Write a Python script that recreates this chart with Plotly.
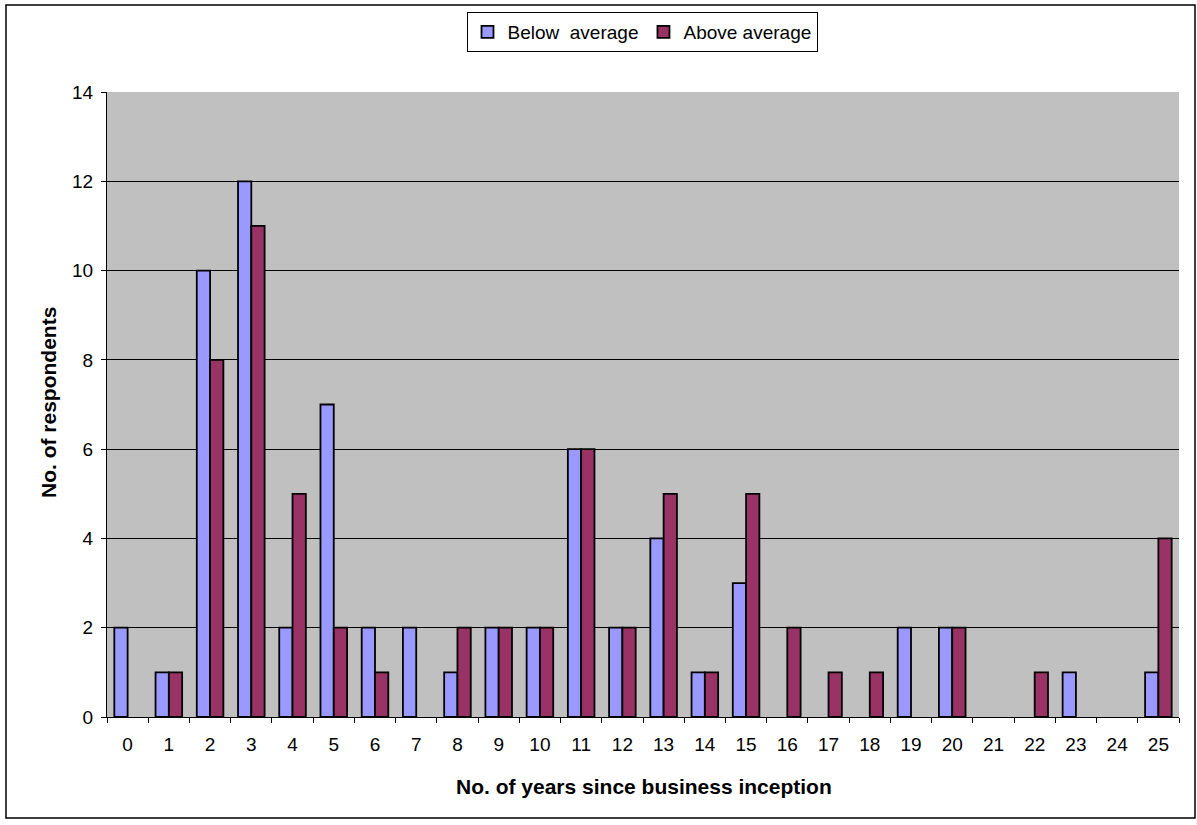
import plotly.graph_objects as go

years = [str(i) for i in range(26)]
below = [2, 1, 10, 12, 2, 7, 2, 2, 1, 2, 2, 6, 2, 4, 1, 3, 0, 0, 0, 2, 2, 0, 0, 1, 0, 1]
above = [0, 1, 8, 11, 5, 2, 1, 0, 2, 2, 2, 6, 2, 5, 1, 5, 2, 1, 1, 0, 2, 0, 1, 0, 0, 4]
y_ticks = [0, 2, 4, 6, 8, 10, 12, 14]

FONT = "Liberation Sans, Arial, sans-serif"


def nz(vals):
    return [v if v != 0 else None for v in vals]


fig = go.Figure()
fig.add_trace(go.Bar(x=years, y=nz(below), name="Below  average",
                     marker=dict(color="#9999FF", line=dict(color="black", width=1.8))))
fig.add_trace(go.Bar(x=years, y=nz(above), name="Above average",
                     marker=dict(color="#993366", line=dict(color="black", width=1.8))))

L, R, T, B = 107, 1179, 92, 717
W, H = 1197, 825
pw, ph = R - L, B - T


def px_x(x):
    return (x - L) / pw


def px_y(y):
    return (B - y) / ph


fig.update_layout(
    width=W, height=H,
    margin=dict(l=L, r=W - R, t=T, b=H - B),
    paper_bgcolor="white",
    plot_bgcolor="#C0C0C0",
    barmode="group",
    bargap=0.355,
    bargroupgap=0,
    font=dict(family=FONT, size=19, color="black"),
    showlegend=True,
    legend=dict(orientation="h", x=px_x(642), xanchor="center", y=px_y(12), yanchor="top",
                bordercolor="black", borderwidth=1, bgcolor="white",
                font=dict(size=19, family=FONT), itemwidth=30,
                tracegroupgap=0),
)

fig.update_xaxes(
    type="category", tickson="boundaries", ticks="outside", ticklen=5,
    tickcolor="black", showline=True, linecolor="black", linewidth=1,
    showgrid=False, tickfont=dict(size=19), mirror=False, fixedrange=True,
    ticklabelstandoff=10,
)
fig.update_yaxes(
    range=[0, 14], tickvals=y_ticks, ticks="outside", ticklen=5,
    tickcolor="black", showline=True, linecolor="black", linewidth=1,
    showgrid=True, gridcolor="black", gridwidth=1, zeroline=False,
    tickfont=dict(size=19), fixedrange=True, ticklabelstandoff=4,
)

fig.add_annotation(text="<b>No. of years since business inception</b>",
                   xref="paper", yref="paper", x=px_x(644), y=px_y(786),
                   xanchor="center", yanchor="middle", showarrow=False,
                   font=dict(size=21, family=FONT))
fig.add_annotation(text="<b>No. of respondents</b>",
                   xref="paper", yref="paper", x=px_x(48), y=px_y(403),
                   xanchor="center", yanchor="middle", showarrow=False, textangle=-90,
                   font=dict(size=21, family=FONT))

fig.add_shape(type="rect", xref="paper", yref="paper",
              x0=px_x(6), x1=px_x(1195),
              y0=px_y(818), y1=px_y(5),
              line=dict(color="black", width=1.5), fillcolor="rgba(0,0,0,0)", layer="below")

fig.write_html("out.html", config={"displayModeBar": False},
               post_script="document.body.style.margin='0';document.body.style.overflow='hidden';")
